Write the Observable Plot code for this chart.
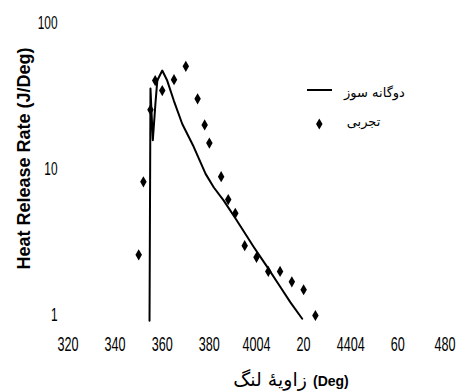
<!DOCTYPE html>
<html>
<head>
<meta charset="utf-8">
<script src="https://cdn.jsdelivr.net/npm/d3@7"></script>
<script src="https://cdn.jsdelivr.net/npm/@observablehq/plot@0.6"></script>
<style>
  html, body { margin: 0; padding: 0; background: #fff; }
  #chart { width: 460px; height: 392px; }
</style>
</head>
<body>
<div id="chart"></div>
<script>
// ---- data ----
const xTicks = [320, 340, 360, 380, 400, 420, 440, 460, 480];
const xTickLabels = ["320", "340", "360", "380", "4004", "20", "4404", "60", "480"];
const yTicks = [1, 10, 100];
const yTickLabels = ["1", "10", "100"];

// experimental points (تجربی)
const expAngle = [350, 352, 355, 357, 360, 365, 370, 375, 378, 380, 385, 388, 391, 395, 400, 405, 410, 415, 420, 425];
const expHRR   = [2.6, 8.2, 25.5, 40.4, 34.5, 41, 50.6, 30.3, 20.1, 15.1, 8.9, 6.2, 5.0, 3.0, 2.5, 2.0, 2.0, 1.7, 1.5, 1.0];

// dual-fuel simulation (دوگانه سوز)
const simAngle = [354.6, 355.0, 356.0, 357.1, 357.9, 360.0, 362.1, 364.9, 368.5, 373.3, 378.4, 381.9, 386.1, 391.1, 398.9, 404.6, 410.2, 414.4, 419.4];
const simHRR   = [0.92, 35.6, 15.8, 28.1, 40.4, 47.3, 40.4, 29.5, 20.4, 14.3, 9.3, 7.5, 6.1, 4.6, 2.93, 2.14, 1.56, 1.23, 0.95];

const legendLabels = ["دوگانه سوز", "تجربی"];
const xTitle = "زاویهٔ لنگ ";
const xTitleUnit = "(Deg)";
const yTitle = "Heat Release Rate (J/Deg)";

// ---- tables ----
const expData = expAngle.map((a, i) => ({angle: a, hrr: expHRR[i]}));
const simData = simAngle.map((a, i) => ({angle: a, hrr: simHRR[i]}));

const sans = "'Liberation Sans', Arial, sans-serif";

const chart = Plot.plot({
  width: 460,
  height: 392,
  marginLeft: 62,
  marginRight: 15.5,
  marginTop: 22.5,
  marginBottom: 67,
  style: {fontFamily: sans, fontSize: "20px", color: "#000", background: "#fff", overflow: "visible"},
  x: {domain: [320, 480], range: [67.5, 444.5]},
  y: {type: "log", domain: [1, 100], range: [315, 22.5]},
  marks: [
    Plot.axisX({ticks: xTicks, tickFormat: d => xTickLabels[xTicks.indexOf(d)], tickSize: 0, tickPadding: 11, label: null}),
    Plot.axisY({ticks: yTicks, tickFormat: d => yTickLabels[yTicks.indexOf(d)], tickSize: 0, tickPadding: 5, label: null}),
    Plot.line(simData, {x: "angle", y: "hrr", stroke: "#000", strokeWidth: 2}),
    Plot.dot(expData, {x: "angle", y: "hrr", symbol: "diamond", r: 3.4, fill: "#000", stroke: "none"})
  ]
});

document.getElementById("chart").appendChild(chart);

// condense tick labels horizontally (narrow, tall digits as in the reference)
function condense(selector, size, sx, anchor) {
  const els = Array.from(chart.querySelectorAll(selector));
  els.forEach(el => { el.style.fontSize = size + "px"; el.style.fontFamily = sans; });
  els.forEach(el => {
    const parent = el.parentNode;
    const r = el.getBoundingClientRect();
    const cx = anchor === "end" ? r.right : (r.left + r.right) / 2;
    const pt = chart.createSVGPoint();
    pt.x = cx; pt.y = (r.top + r.bottom) / 2;
    const p = pt.matrixTransform(parent.getScreenCTM().inverse());
    const g = document.createElementNS("http://www.w3.org/2000/svg", "g");
    g.setAttribute("transform", `translate(${p.x},0) scale(${sx},1) translate(${-p.x},0)`);
    parent.insertBefore(g, el);
    g.appendChild(el);
  });
}
condense("g[aria-label='x-axis tick label'] text", 20, 0.63, "middle");
condense("g[aria-label='y-axis tick label'] text", 18, 0.66, "end");

const svg = d3.select(chart);

// ---- titles & legend ----
svg.append("text")
  .attr("transform", "translate(30,158.5) rotate(-90)")
  .attr("text-anchor", "middle")
  .style("font-family", sans)
  .style("font-weight", "bold")
  .style("font-size", "18px")
  .attr("fill", "#000")
  .text(yTitle);

const xt = svg.append("text")
  .attr("x", 291).attr("y", 386)
  .attr("text-anchor", "middle")
  .attr("direction", "ltr")
  .attr("fill", "#000")
  .style("font-family", "'DejaVu Sans', sans-serif")
  .style("font-size", "19px");
xt.append("tspan").text(xTitle);
xt.append("tspan").style("font-family", sans).style("font-weight", "bold").style("font-size", "14px").text(xTitleUnit);

// legend
const lg = svg.append("g");
lg.append("line").attr("x1", 307).attr("x2", 332).attr("y1", 90).attr("y2", 90)
  .attr("stroke", "#000").attr("stroke-width", 2);
lg.append("path").attr("transform", "translate(319.3,124)")
  .attr("d", d3.symbol(d3.symbolDiamond, Math.PI * 3.4 * 3.4)())
  .attr("fill", "#000");
lg.append("text").attr("x", 374.5).attr("y", 97).attr("fill", "#000")
  .attr("text-anchor", "middle")
  .style("font-family", "'DejaVu Sans', sans-serif").style("font-size", "13px")
  .text(legendLabels[0]);
lg.append("text").attr("x", 363.5).attr("y", 126).attr("fill", "#000")
  .attr("text-anchor", "middle")
  .style("font-family", "'DejaVu Sans', sans-serif").style("font-size", "13px")
  .text(legendLabels[1]);
</script>
</body>
</html>
